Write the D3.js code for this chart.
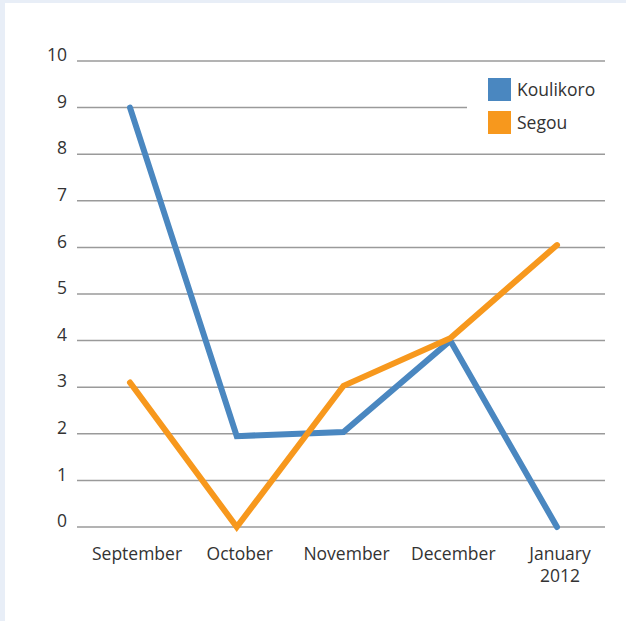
<!DOCTYPE html>
<html>
<head>
<meta charset="utf-8">
<script src="https://cdn.jsdelivr.net/npm/d3@7"></script>
<style>
  body { margin: 0; background: #e8eef7; }
  svg { display: block; }
</style>
</head>
<body>
<div class="chart"></div>
<script>
const months = ["September", "October", "November", "December", "January\n2012"];
const koulikoro = [9, 1.95, 2.04, 4, 0];
const segou = [3.1, 0, 3.03, 4.05, 6.05];
const yTicks = [0, 1, 2, 3, 4, 5, 6, 7, 8, 9, 10];
const seriesNames = ["Koulikoro", "Segou"];
const seriesColors = ["#4a87c0", "#f7981d"];

let svgW = 626,
    svgH = 621,
    plotLeft = 77,
    plotRight = 605,
    plotTop = 61,
    plotBottom = 527,
    fontSize = 17.5;

const svg = d3.select(".chart")
    .append("svg")
    .attr("width", svgW)
    .attr("height", svgH);

// white panel inside the pale frame
svg.append("rect")
    .attr("x", 5)
    .attr("y", 3)
    .attr("width", svgW - 5)
    .attr("height", svgH - 3)
    .attr("fill", "#ffffff");

const x = d3.scalePoint()
    .domain(months)
    .range([130, 557]);

const y = d3.scaleLinear()
    .domain([0, 10])
    .range([plotBottom, plotTop]);

// gridlines
svg.selectAll("line.grid")
    .data(yTicks)
    .enter()
    .append("line")
    .attr("class", "grid")
    .attr("x1", plotLeft)
    .attr("x2", plotRight)
    .attr("y1", d => y(d))
    .attr("y2", d => y(d))
    .attr("stroke", "#9a9a9a")
    .attr("stroke-width", 1.5);

// y labels
svg.selectAll("text.ytick")
    .data(yTicks)
    .enter()
    .append("text")
    .attr("class", "ytick")
    .attr("x", 67)
    .attr("y", d => y(d) - 6)
    .attr("dy", "0.35em")
    .attr("text-anchor", "end")
    .attr("font-family", "'Open Sans', sans-serif")
    .attr("font-size", fontSize)
    .attr("fill", "#333")
    .text(d => d);

// x labels, one text per line
const xLines = [];
months.forEach(m => m.split("\n").forEach((s, i) => xLines.push({ m, s, i })));

svg.selectAll("text.xtick")
    .data(xLines)
    .enter()
    .append("text")
    .attr("class", "xtick")
    .attr("x", d => x(d.m) + (d.m === "September" ? 7 : 3))
    .attr("y", d => 560 + d.i * 22)
    .attr("text-anchor", "middle")
    .attr("font-family", "'Open Sans', sans-serif")
    .attr("font-size", fontSize)
    .attr("fill", "#333")
    .text(d => d.s);

// legend box hides part of the 9 gridline
svg.append("rect")
    .attr("x", 467)
    .attr("y", 68)
    .attr("width", 138)
    .attr("height", 78)
    .attr("fill", "#ffffff");

const line = d3.line()
    .x((d, i) => x(months[i]))
    .y(d => y(d));

[koulikoro, segou].forEach((vals, k) => {
    svg.append("path")
        .datum(vals)
        .attr("d", line)
        .attr("fill", "none")
        .attr("stroke", seriesColors[k])
        .attr("stroke-width", 6)
        .attr("stroke-linejoin", "miter")
        .attr("stroke-linecap", "round");
});

// legend
seriesNames.forEach((name, k) => {
    svg.append("rect")
        .attr("x", 488)
        .attr("y", 78 + k * 33)
        .attr("width", 23)
        .attr("height", 23)
        .attr("fill", seriesColors[k]);
    svg.append("text")
        .attr("x", 517)
        .attr("y", 90 + k * 33)
        .attr("dy", "0.35em")
        .attr("font-family", "'Open Sans', sans-serif")
        .attr("font-size", fontSize)
        .attr("fill", "#333")
        .text(name);
});
</script>
</body>
</html>
